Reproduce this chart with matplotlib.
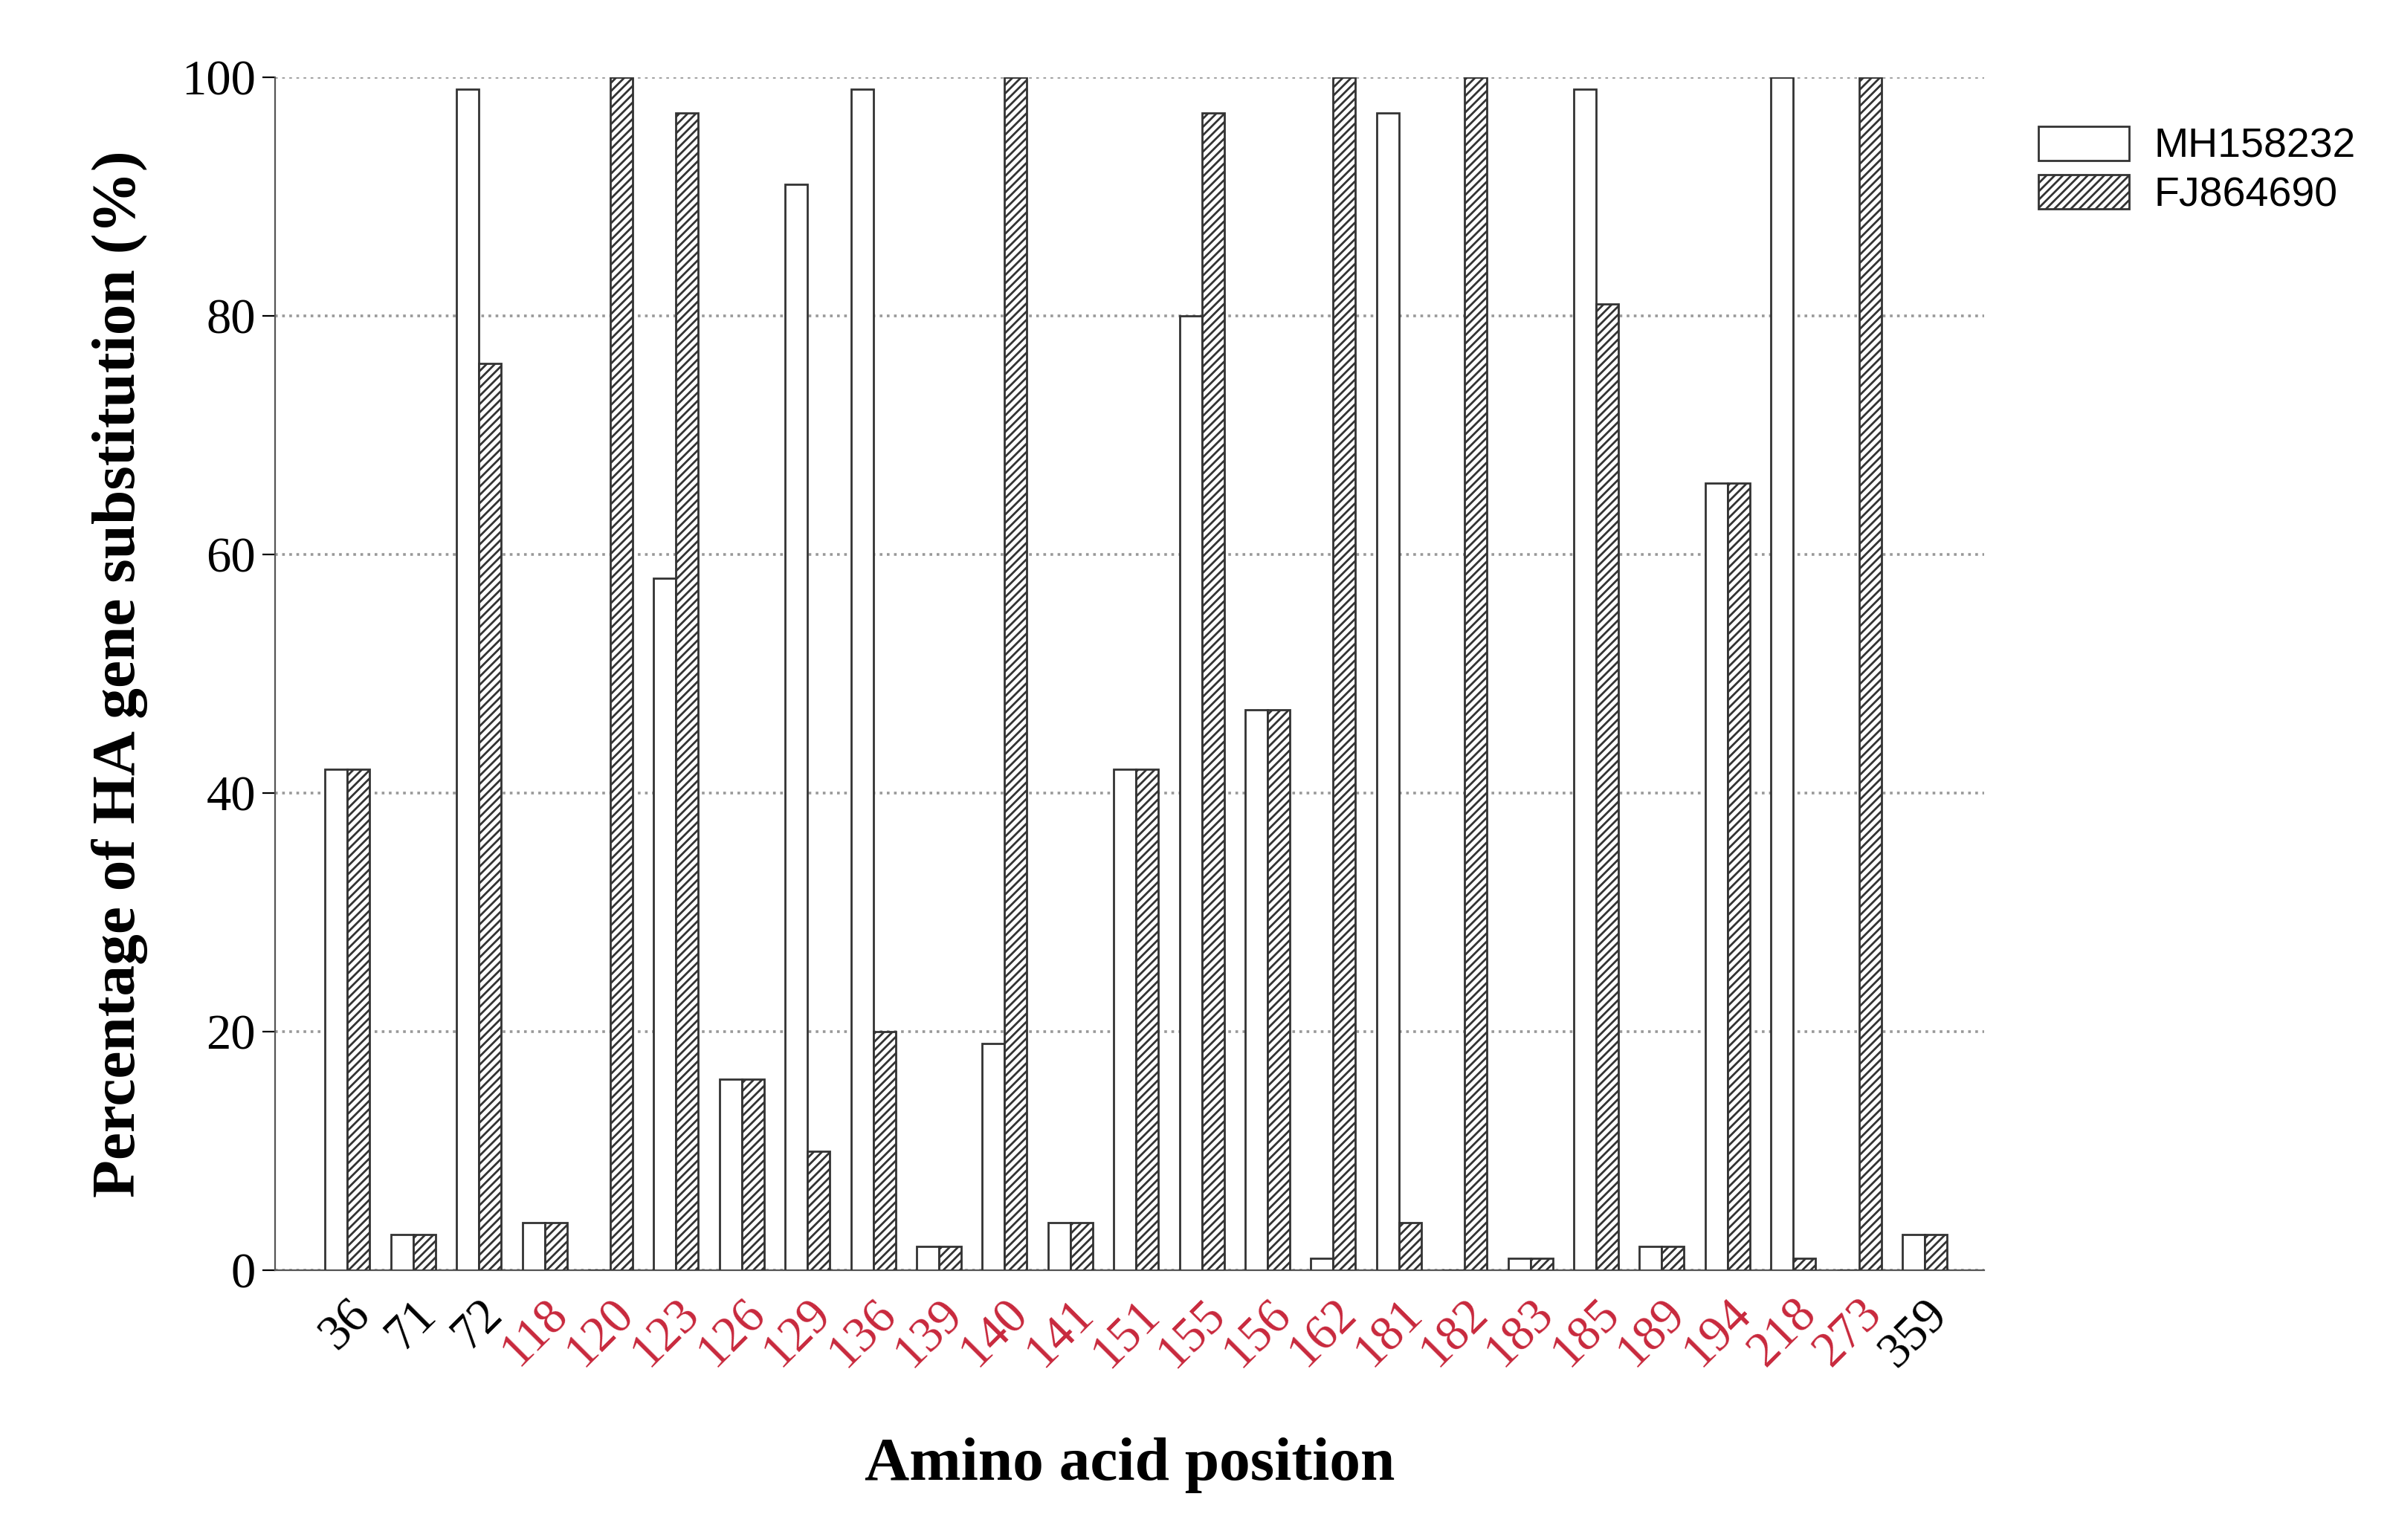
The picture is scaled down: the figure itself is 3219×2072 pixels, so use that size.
import matplotlib
matplotlib.use("Agg")
import matplotlib.pyplot as plt
import numpy as np

positions = ["36","71","72","118","120","123","126","129","136","139","140","141","151","155","156","162","181","182","183","185","189","194","218","273","359"]
mh158232 = [42,3,99,4,0,58,16,91,99,2,19,4,42,80,47,1,97,0,1,99,2,66,100,0,3]
fj864690 = [42,3,76,4,100,97,16,10,20,2,100,4,42,97,47,100,4,100,1,81,2,66,1,100,3]
black_labels = {"36","71","72","359"}

plt.rcParams['hatch.color'] = '#555555'
plt.rcParams['hatch.linewidth'] = 1.0
fig = plt.figure(figsize=(16.095, 10.36), dpi=200)
ax = fig.add_axes([0.115, 0.175, 0.714, 0.775])
x = np.arange(len(positions))
w = 0.34
ax.bar(x - w/2, mh158232, w, color='white', edgecolor='#333333', linewidth=1.0, label='MH158232', zorder=3)
ax.bar(x + w/2, fj864690, w, color='white', edgecolor='#333333', linewidth=1.0, hatch='//////', label='FJ864690', zorder=3)
ax.set_xlim(-1.1, 24.9)
ax.set_ylim(0, 100)
ax.set_yticks([0,20,40,60,80,100])
ax.yaxis.grid(True, linestyle=':', color='#999999', linewidth=1.3, zorder=0)
for s in ['top','right']:
    ax.spines[s].set_visible(False)
ax.spines['left'].set_color('#555555')
ax.spines['bottom'].set_color('#555555')
ax.set_xticks(x)
ax.set_xticklabels(positions, rotation=45, ha='right', rotation_mode='anchor', fontsize=24, family='Liberation Serif')
for lbl, p in zip(ax.get_xticklabels(), positions):
    lbl.set_color('black' if p in black_labels else '#c8283c')
ax.tick_params(axis='x', length=0, pad=10)
ax.tick_params(axis='y', labelsize=24, length=6, direction='out')
for lbl in ax.get_yticklabels():
    lbl.set_family('Liberation Serif')
ax.set_ylabel('Percentage of HA gene substitution (%)', fontsize=30, fontweight='bold', family='Liberation Serif', labelpad=16)
ax.set_xlabel('Amino acid position', fontsize=30, fontweight='bold', family='Liberation Serif', labelpad=30)
leg = ax.legend(loc='upper left', bbox_to_anchor=(1.01, 0.99), frameon=False, prop={'family':'Liberation Sans','size':20},
                handlelength=2.2, handleheight=0.9, handletextpad=0.6, labelspacing=0.2)
fig.savefig('out.png', dpi=200)
